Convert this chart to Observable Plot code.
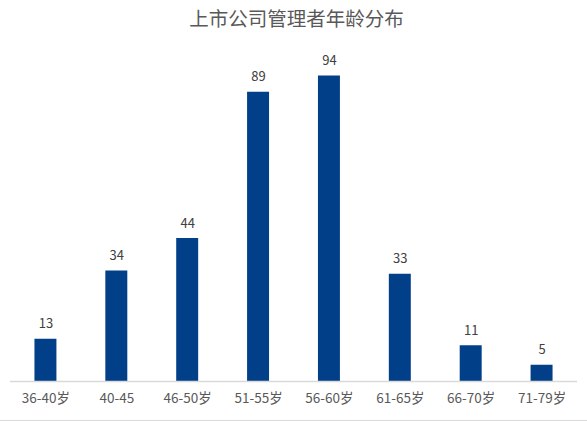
<!DOCTYPE html>
<html><head><meta charset="utf-8">
<script src="https://cdn.jsdelivr.net/npm/d3@7"></script>
<script src="https://cdn.jsdelivr.net/npm/@observablehq/plot@0.6"></script>
<style>
body{margin:0;background:#fff;font-family:"Noto Sans CJK SC","Noto Sans",sans-serif;}
#wrap{width:587px;height:420px;border-bottom:1px solid #d9d9d9;}
#title{height:40px;line-height:35px;text-align:center;font-size:19.5px;color:#595959;padding-left:6px;}
</style></head>
<body><div id="wrap"><div id="title">上市公司管理者年龄分布</div><div id="chart"></div></div>
<script>
const categories = ["36-40岁","40-45","46-50岁","51-55岁","56-60岁","61-65岁","66-70岁","71-79岁"];
const values = [13,34,44,89,94,33,11,5];
const data = categories.map((c,i)=>({cat:c, v:values[i]}));
const chart = Plot.plot({
  width:587, height:380,
  marginLeft:10, marginRight:10, marginTop:16, marginBottom:39,
  style:{fontFamily:'"Noto Sans CJK SC","Noto Sans",sans-serif', background:"transparent"},
  x:{domain:categories, paddingInner:0.69, paddingOuter:0.345, round:false, label:null, tickSize:0, tickPadding:12},
  y:{domain:[0,100], axis:null},
  marks:[
    Plot.barY(data,{x:"cat", y:"v", fill:"#023f89"}),
    Plot.ruleY([0],{stroke:"#d9d9d9", strokeWidth:1.5}),
    Plot.text(data,{x:"cat", y:"v", text:d=>String(d.v), dy:-15, fill:"#404040", fontSize:13}),
    Plot.axisX({tickSize:0, tickPadding:12, fontSize:13.5, color:"#595959", label:null})
  ]
});
document.getElementById("chart").appendChild(chart);
</script></body></html>
